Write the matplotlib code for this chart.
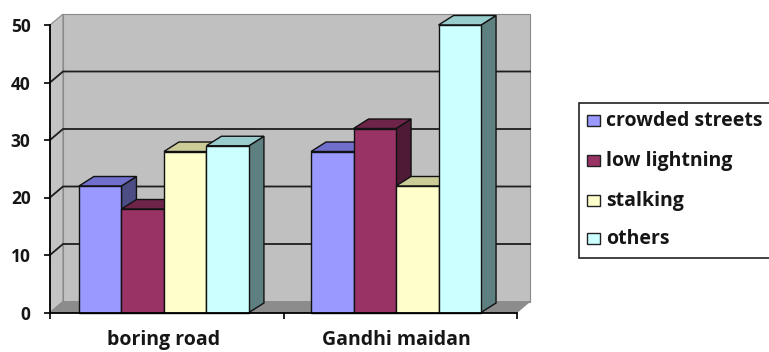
import matplotlib
matplotlib.use("Agg")
import matplotlib.pyplot as plt
from matplotlib.patches import Polygon, Rectangle

# ---- data ----
categories = ["boring road", "Gandhi maidan"]
series_names = ["crowded streets", "low lightning", "stalking", "others"]
crowded_streets = [22, 28]
low_lightning = [18, 32]
stalking = [28, 22]
others = [29, 50]
yticks = [0, 10, 20, 30, 40, 50]

series_values = [crowded_streets, low_lightning, stalking, others]
front_colors = ["#9999FF", "#993366", "#FFFFCC", "#CCFFFF"]
top_colors = ["#7070CC", "#6E2449", "#CCCC99", "#99CCCC"]
side_colors = ["#4D4D85", "#4F1A35", "#8A8A6E", "#5F8080"]

W, H = 769, 352
fig = plt.figure(figsize=(W / 100, H / 100), dpi=100)
fig.patch.set_facecolor("white")

x0_px, x1_px = 50, 517
y0_px, y50_px = 312.5, 25
ax = fig.add_axes([x0_px / W, (H - y0_px) / H, (x1_px - x0_px) / W, (y0_px - y50_px) / H])
ax.set_xlim(0, 2)
ax.set_ylim(0, 50)
ax.patch.set_visible(False)

px_x = (x1_px - x0_px) / 2.0        # pixels per category unit
px_y = (y0_px - y50_px) / 50.0      # pixels per value unit

# depth offsets of walls and bars (data units)
wdx, wdy = 13 / px_x, 11 / px_y
bdx, bdy = 15 / px_x, 9.5 / px_y

FONT = ["Open Sans", "DejaVu Sans"]
TXT = "#161616"

# side wall, back wall and floor
ax.add_patch(Polygon([(0, 0), (wdx, wdy), (wdx, 50 + wdy), (0, 50)], closed=True,
                     facecolor="#C4C4C4", edgecolor="#8A8A8A", lw=0.8, zorder=0.5, clip_on=False))
ax.add_patch(Polygon([(wdx, wdy), (2 + wdx, wdy), (2 + wdx, 50 + wdy), (wdx, 50 + wdy)], closed=True,
                     facecolor="#C0C0C0", edgecolor="#8A8A8A", lw=0.8, zorder=0.5, clip_on=False))
ax.add_patch(Polygon([(0, 0), (2, 0), (2 + wdx, wdy), (wdx, wdy)], closed=True,
                     facecolor="#8C8C8C", edgecolor="#8A8A8A", lw=0.6, zorder=0.6, clip_on=False))

# gridlines on walls
for v in yticks[1:-1]:
    ax.plot([0, wdx, 2 + wdx], [v, v + wdy, v + wdy], color="#1E1E1E", lw=1.3,
            zorder=0.8, clip_on=False, solid_joinstyle="miter")

# bars
bar_w = 0.182
for ci in range(len(categories)):
    center = ci + 0.488 - 0.006 * ci
    start = center - bar_w * len(series_values) / 2
    for si, vals in enumerate(series_values):
        v = vals[ci]
        xa = start + si * bar_w
        xb = xa + bar_w
        z = 2 + si * 0.1
        ax.add_patch(Polygon([(xb, 0), (xb + bdx, bdy), (xb + bdx, v + bdy), (xb, v)], closed=True,
                             facecolor=side_colors[si], edgecolor="#111111", lw=1.0, zorder=z, clip_on=False))
        ax.add_patch(Polygon([(xa, v), (xb, v), (xb + bdx, v + bdy), (xa + bdx, v + bdy)], closed=True,
                             facecolor=top_colors[si], edgecolor="#111111", lw=1.0, zorder=z, clip_on=False))
        ax.add_patch(Rectangle((xa, 0), bar_w, v, facecolor=front_colors[si],
                               edgecolor="#111111", lw=1.0, zorder=z + 0.05, clip_on=False))

# axes
for s in ["top", "right"]:
    ax.spines[s].set_visible(False)
for s in ["left", "bottom"]:
    ax.spines[s].set_color("black")
    ax.spines[s].set_linewidth(1.3)
    ax.spines[s].set_zorder(5)
ax.set_yticks(yticks)
ax.set_yticklabels([str(t) for t in yticks])
ax.set_xticks([0, 1, 2])
ax.set_xticklabels([])
ax.tick_params(axis="y", direction="out", length=4, width=1.2, pad=10, colors="black", labelcolor=TXT)
ax.tick_params(axis="x", direction="out", length=4, width=1.2, colors="black")
for lab in ax.get_yticklabels():
    lab.set_fontfamily(FONT)
    lab.set_fontweight("bold")
    lab.set_fontsize(12.5)

for ci, name in enumerate(categories):
    center = ci + 0.488 - 0.006 * ci
    ax.text(center, -(345 - y0_px) / px_y, name, ha="center", va="baseline", fontsize=14,
            fontweight="bold", family=FONT, color=TXT)

# legend box
lx0, ly0, lx1, ly1 = 579, 103, 800, 258
fig.patches.append(Rectangle((lx0 / W, 1 - ly1 / H), (lx1 - lx0) / W, (ly1 - ly0) / H,
                             transform=fig.transFigure, facecolor="white", edgecolor="#222222",
                             lw=1.2, clip_on=False))
entry_y = [121, 161, 201, 239]
for si, name in enumerate(series_names):
    cy = entry_y[si]
    fig.patches.append(Rectangle((587 / W, 1 - (cy + 5) / H), 13 / W, 11 / H,
                                 transform=fig.transFigure, facecolor=front_colors[si],
                                 edgecolor="#222222", lw=1.0))
    fig.text(606 / W, 1 - cy / H, name, ha="left", va="center", fontsize=14,
             fontweight="bold", family=FONT, color=TXT)

fig.savefig("out.png", dpi=100, facecolor="white")
